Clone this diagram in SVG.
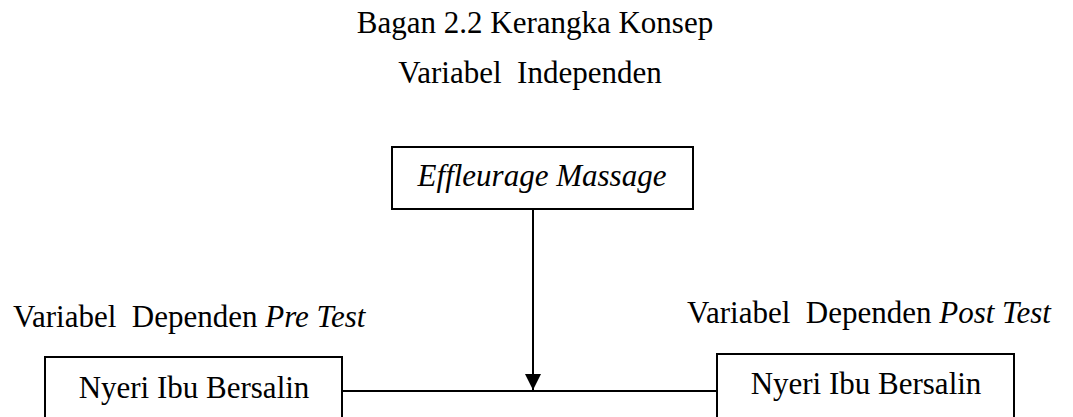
<svg xmlns="http://www.w3.org/2000/svg" width="1073" height="417" viewBox="0 0 1073 417">
  <style>
    text { font-family: "Liberation Serif", "Times New Roman", serif; font-size: 31px; fill: #000; }
    .it { font-style: italic; }
    .box { fill: #fff; stroke: #000; stroke-width: 2; }
    .link { fill: none; stroke: #000; stroke-width: 2; }
  </style>
  <defs>
    <marker id="arrowhead" markerWidth="16" markerHeight="16" refX="16" refY="8" orient="auto" markerUnits="userSpaceOnUse">
      <path d="M0,0 L16,8 L0,16 Z" fill="#000"/>
    </marker>
  </defs>

  <rect width="1073" height="417" fill="#fff"/>

  <!-- headings -->
  <text x="535" y="33" text-anchor="middle">Bagan 2.2 Kerangka Konsep</text>
  <text x="530" y="83" text-anchor="middle" xml:space="preserve">Variabel  Independen</text>
  <text x="13" y="327" xml:space="preserve">Variabel  Dependen <tspan class="it">Pre Test</tspan></text>
  <text x="687" y="323" xml:space="preserve">Variabel  Dependen <tspan class="it">Post Test</tspan></text>

  <!-- connectors -->
  <g id="connectors">
    <line class="link" x1="342" y1="391" x2="717" y2="391"/>
    <line class="link" x1="533" y1="209" x2="533" y2="390" marker-end="url(#arrowhead)"/>
  </g>

  <!-- independent variable -->
  <g id="node-effleurage">
    <rect class="box" x="392" y="147" width="301" height="62"/>
    <text class="it" x="542" y="186" text-anchor="middle">Effleurage Massage</text>
  </g>

  <!-- dependent variable, pre test -->
  <g id="node-pretest">
    <rect class="box" x="45" y="357" width="297" height="80"/>
    <text x="194" y="398" text-anchor="middle">Nyeri Ibu Bersalin</text>
  </g>

  <!-- dependent variable, post test -->
  <g id="node-posttest">
    <rect class="box" x="717" y="354" width="297" height="80"/>
    <text x="866" y="394" text-anchor="middle">Nyeri Ibu Bersalin</text>
  </g>
</svg>
